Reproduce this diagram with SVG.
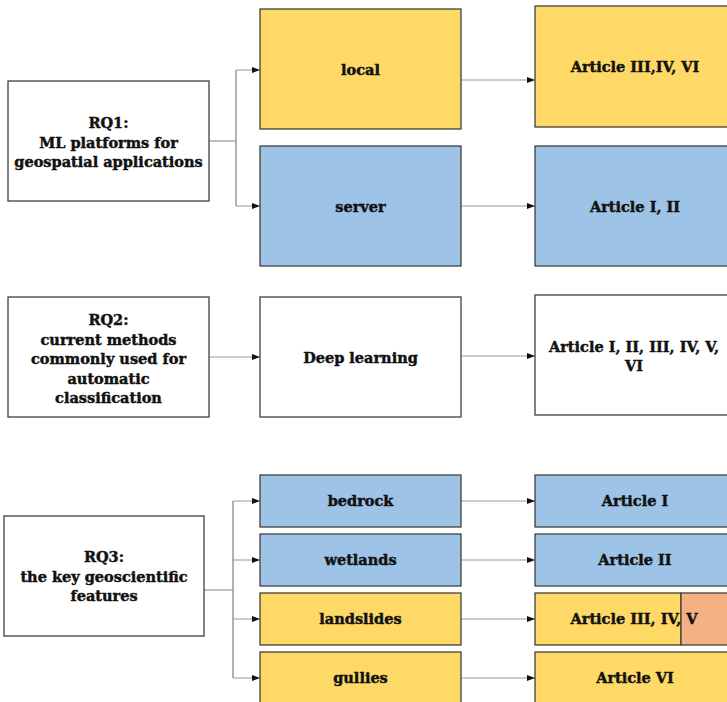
<svg xmlns="http://www.w3.org/2000/svg" width="727" height="702" viewBox="0 0 727 702">
  <style>
    .box { stroke: #404040; stroke-width: 1.3; }
    .white { fill: #ffffff; }
    .yellow { fill: #FED966; }
    .blue { fill: #9DC3E6; }
    .orange { fill: #F4B183; }
    .lbl { font-family: "DejaVu Serif", "Liberation Serif", serif; font-weight: bold; font-size: 14.5px; fill: #111111; stroke: #111111; stroke-width: 0.45; text-anchor: middle; }
    .wire { fill: none; stroke: #808080; stroke-width: 1.2; }
    .arrow { fill: none; stroke: #9a9a9a; stroke-width: 1; marker-end: url(#head); }
  </style>
  <defs>
    <marker id="head" viewBox="0 0 8 8" refX="8" refY="4" markerWidth="8" markerHeight="8" markerUnits="userSpaceOnUse" orient="auto">
      <path d="M0,1 L8,4 L0,7 Z" fill="#111111"/>
    </marker>
  </defs>

  <rect width="727" height="702" fill="#ffffff"/>

  <!-- connectors -->
  <g id="connectors">
    <!-- RQ1 fan-out -->
    <path class="wire" d="M209,141 H236 M236,70 V206"/>
    <path class="arrow" d="M236,70 H260"/>
    <path class="arrow" d="M236,206 H260"/>
    <path class="arrow" d="M461,80 H535"/>
    <path class="arrow" d="M461,206 H535"/>
    <!-- RQ2 chain -->
    <path class="arrow" d="M209,357 H260"/>
    <path class="arrow" d="M461,356 H535"/>
    <!-- RQ3 fan-out -->
    <path class="wire" d="M204,590 H233 M233,501 V678"/>
    <path class="arrow" d="M233,501 H260"/>
    <path class="arrow" d="M233,560 H260"/>
    <path class="arrow" d="M233,619 H260"/>
    <path class="arrow" d="M233,678 H260"/>
    <path class="arrow" d="M461,501 H535"/>
    <path class="arrow" d="M461,560 H535"/>
    <path class="arrow" d="M461,619 H535"/>
    <path class="arrow" d="M461,678 H535"/>
  </g>

  <!-- RQ1 -->
  <g id="rq1">
    <rect class="box white" x="8" y="81" width="201" height="120"/>
    <text class="lbl" x="108.5" y="128">RQ1:</text>
    <text class="lbl" x="108.5" y="148">ML platforms for</text>
    <text class="lbl" x="108.5" y="167">geospatial applications</text>
  </g>
  <g id="local">
    <rect class="box yellow" x="260" y="9" width="201" height="120"/>
    <text class="lbl" x="360.5" y="75">local</text>
  </g>
  <g id="server">
    <rect class="box blue" x="260" y="146" width="201" height="120"/>
    <text class="lbl" x="360.5" y="212">server</text>
  </g>
  <g id="art-local">
    <rect class="box yellow" x="535" y="6" width="194" height="121"/>
    <text class="lbl" x="635" y="72">Article III,IV, VI</text>
  </g>
  <g id="art-server">
    <rect class="box blue" x="535" y="146" width="194" height="120"/>
    <text class="lbl" x="635" y="212">Article I, II</text>
  </g>

  <!-- RQ2 -->
  <g id="rq2">
    <rect class="box white" x="8" y="297" width="201" height="120"/>
    <text class="lbl" x="108.5" y="325">RQ2:</text>
    <text class="lbl" x="108.5" y="345">current methods</text>
    <text class="lbl" x="108.5" y="364">commonly used for</text>
    <text class="lbl" x="108.5" y="384">automatic</text>
    <text class="lbl" x="108.5" y="403">classification</text>
  </g>
  <g id="deep-learning">
    <rect class="box white" x="260" y="297" width="201" height="120"/>
    <text class="lbl" x="360.5" y="363">Deep learning</text>
  </g>
  <g id="art-dl">
    <rect class="box white" x="535" y="295" width="194" height="120"/>
    <text class="lbl" x="634" y="352">Article I, II, III, IV, V,</text>
    <text class="lbl" x="634" y="371">VI</text>
  </g>

  <!-- RQ3 -->
  <g id="rq3">
    <rect class="box white" x="4" y="516" width="200" height="120"/>
    <text class="lbl" x="104" y="562">RQ3:</text>
    <text class="lbl" x="104" y="582">the key geoscientific</text>
    <text class="lbl" x="104" y="601">features</text>
  </g>
  <g id="bedrock">
    <rect class="box blue" x="260" y="475" width="201" height="52"/>
    <text class="lbl" x="360.5" y="506">bedrock</text>
  </g>
  <g id="wetlands">
    <rect class="box blue" x="260" y="534" width="201" height="52"/>
    <text class="lbl" x="360.5" y="565">wetlands</text>
  </g>
  <g id="landslides">
    <rect class="box yellow" x="260" y="593" width="201" height="52"/>
    <text class="lbl" x="360.5" y="624">landslides</text>
  </g>
  <g id="gullies">
    <rect class="box yellow" x="260" y="652" width="201" height="52"/>
    <text class="lbl" x="360.5" y="683">gullies</text>
  </g>
  <g id="art-bedrock">
    <rect class="box blue" x="535" y="475" width="194" height="52"/>
    <text class="lbl" x="635" y="506">Article I</text>
  </g>
  <g id="art-wetlands">
    <rect class="box blue" x="535" y="534" width="194" height="52"/>
    <text class="lbl" x="635" y="565">Article II</text>
  </g>
  <g id="art-landslides">
    <rect class="box yellow" x="535" y="593" width="146" height="52"/>
    <rect class="box orange" x="681" y="593" width="48" height="52"/>
    <text class="lbl" x="634" y="624">Article III, IV, V</text>
  </g>
  <g id="art-gullies">
    <rect class="box yellow" x="535" y="652" width="194" height="52"/>
    <text class="lbl" x="635" y="683">Article VI</text>
  </g>
</svg>
